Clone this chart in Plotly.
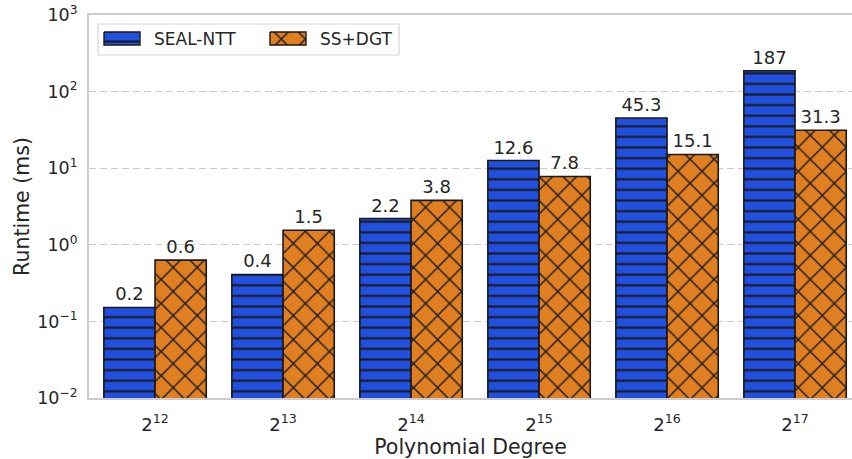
import plotly.graph_objects as go

categories = ["2<sup>12</sup>", "2<sup>13</sup>", "2<sup>14</sup>", "2<sup>15</sup>", "2<sup>16</sup>", "2<sup>17</sup>"]
seal_ntt = [0.152, 0.41, 2.2, 12.6, 45.3, 187]
ss_dgt = [0.63, 1.55, 3.8, 7.8, 15.1, 31.3]
seal_labels = ["0.2", "0.4", "2.2", "12.6", "45.3", "187"]
dgt_labels = ["0.6", "1.5", "3.8", "7.8", "15.1", "31.3"]
y_tickvals = [0.01, 0.1, 1, 10, 100, 1000]
y_ticktext = ["10<sup>−2</sup>", "10<sup>−1</sup>", "10<sup>0</sup>", "10<sup>1</sup>", "10<sup>2</sup>", "10<sup>3</sup>"]

x = list(range(len(categories)))
FONT = "DejaVu Sans"
TXT = "#262626"
BLUE = "#2150E0"
ORANGE = "#E07E22"
EDGE = "#1a1a1a"

blue_pattern = dict(shape="-", fgcolor=EDGE, bgcolor=BLUE, size=10.6, solidity=0.2, fillmode="replace")
orange_pattern = dict(shape="x", fgcolor=EDGE, bgcolor=ORANGE, size=17, solidity=0.16, fillmode="replace")

fig = go.Figure()
fig.add_trace(go.Bar(
    x=x, y=seal_ntt, name="SEAL-NTT", showlegend=False,
    text=seal_labels, textposition="outside", cliponaxis=False, constraintext="none",
    textfont=dict(family=FONT, size=18, color=TXT),
    marker=dict(color=BLUE, line=dict(color=EDGE, width=1.6), pattern=blue_pattern),
))
fig.add_trace(go.Bar(
    x=x, y=ss_dgt, name="SS+DGT", showlegend=False,
    text=dgt_labels, textposition="outside", cliponaxis=False, constraintext="none",
    textfont=dict(family=FONT, size=18, color=TXT),
    marker=dict(color=ORANGE, line=dict(color=EDGE, width=1.6), pattern=orange_pattern),
))

# Custom legend on a pixel-like overlay axis: box, patches and labels
fig.add_shape(type="rect", xref="x2", yref="y2", x0=98, x1=399, y0=24, y1=55,
              fillcolor="white", line=dict(color="#d6d6d6", width=1.2), layer="below")
legend_items = [("SEAL-NTT", 104, 140, BLUE, blue_pattern), ("SS+DGT", 270, 306, ORANGE, orange_pattern)]
for name, lx0, lx1, col, pat in legend_items:
    fig.add_trace(go.Scatter(
        x=[lx0, lx1, lx1, lx0, lx0], y=[32, 32, 45, 45, 32], xaxis="x2", yaxis="y2",
        mode="lines", fill="toself", fillcolor=col, fillpattern=pat,
        line=dict(color=EDGE, width=1.4), showlegend=False, hoverinfo="skip",
    ))
    fig.add_annotation(x=lx1 + 12, y=38.5, xref="x2", yref="y2", text=name, showarrow=False,
                       xanchor="left", yanchor="middle",
                       font=dict(family=FONT, size=17, color=TXT))

fig.update_layout(
    width=852, height=459,
    margin=dict(l=89, r=0, t=15, b=61),
    paper_bgcolor="white", plot_bgcolor="white",
    barmode="group", bargap=0.2, bargroupgap=0,
    font=dict(family=FONT, size=16, color=TXT),
    showlegend=False,
    xaxis2=dict(overlaying="x", range=[89, 852], visible=False, fixedrange=True),
    yaxis2=dict(overlaying="y", range=[398, 15], visible=False, fixedrange=True),
    xaxis=dict(
        tickmode="array", tickvals=x, ticktext=categories, automargin=False,
        range=[-0.516, 5.445], showgrid=False, zeroline=False,
        showline=True, mirror=True, linecolor="#cccccc", linewidth=2, ticks="",
        tickfont=dict(family=FONT, size=18, color=TXT), ticklabelstandoff=9,
        title=dict(text="Polynomial Degree", font=dict(family=FONT, size=20.5, color=TXT), standoff=11),
    ),
    yaxis=dict(
        type="log", range=[-2, 3], tickmode="array", tickvals=y_tickvals, ticktext=y_ticktext,
        automargin=False,
        showgrid=True, gridcolor="#cccccc", griddash="7px,4px", gridwidth=1.2,
        zeroline=False, showline=True, mirror=True, linecolor="#cccccc", linewidth=2, ticks="",
        tickfont=dict(family=FONT, size=17.5, color=TXT), ticklabelstandoff=6,
        title=dict(text="Runtime (ms)", font=dict(family=FONT, size=20.5, color=TXT), standoff=2),
    ),
)

fig.write_html("out.html", config={"displayModeBar": False},
               post_script="document.body.style.margin='0';")
